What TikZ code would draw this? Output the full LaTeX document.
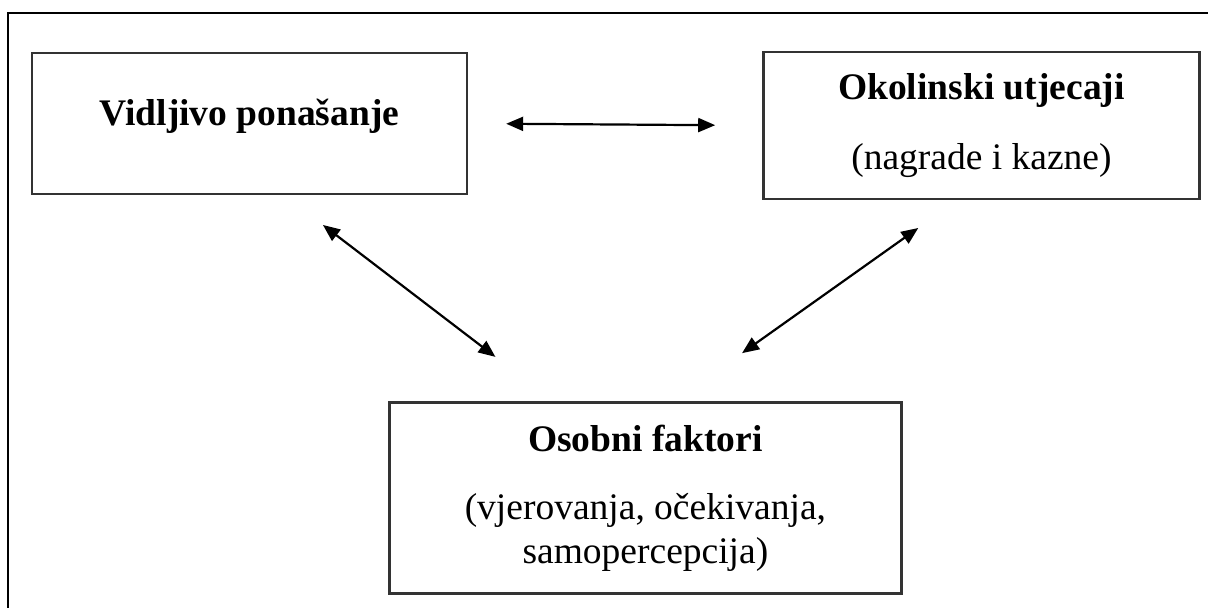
\documentclass[tikz,border=0pt]{standalone}
\usepackage{fontspec}
\setmainfont{Liberation Serif}
\usetikzlibrary{arrows.meta}
\usetikzlibrary{positioning}

\begin{document}
\begin{tikzpicture}[x=1pt,y=-1pt,<->,>={Triangle[length=17pt,width=14pt]},
					line width=2.2pt,font=\fontsize{37.5}{44}\selectfont]
					\tikzstyle{box}=[draw=black!80,line width=2.4pt,inner sep=0pt,align=center]
					
					\useasboundingbox (0,0) rectangle (1208,608);
					\draw[-,line width=2.8pt] (1220,13) -| (8,620);
					
					\node[box,minimum width=435pt,minimum height=141pt,text depth=23pt] (Vidljivo) at (249.5,123.5) {\textbf{Vidljivo ponašanje}};
					\node[box,minimum width=436pt,minimum height=147pt] (Okolinski) [right=294pt of Vidljivo,yshift=-2pt] {\textbf{Okolinski utjecaji}\\[26pt](nagrade i kazne)};
					\node[box,minimum width=512pt,minimum height=191pt] (Osobni) [below right=206pt and -80pt of Vidljivo.south east] {\textbf{Osobni faktori}\\[24pt](vjerovanja, očekivanja,\\samopercepcija)};
					
					\draw[shorten <=38pt,shorten >=47pt] (Vidljivo.east) -- (Okolinski.west);
					\draw[shorten <=49pt,shorten >=73pt] ([xshift=34.5pt]Vidljivo.south) -- ([xshift=-92pt]Osobni.north);
					\draw[shorten <=48pt,shorten >=83pt] ([xshift=-24pt]Okolinski.south) -- ([xshift=29pt]Osobni.north);
					\end{tikzpicture}
\end{document}
